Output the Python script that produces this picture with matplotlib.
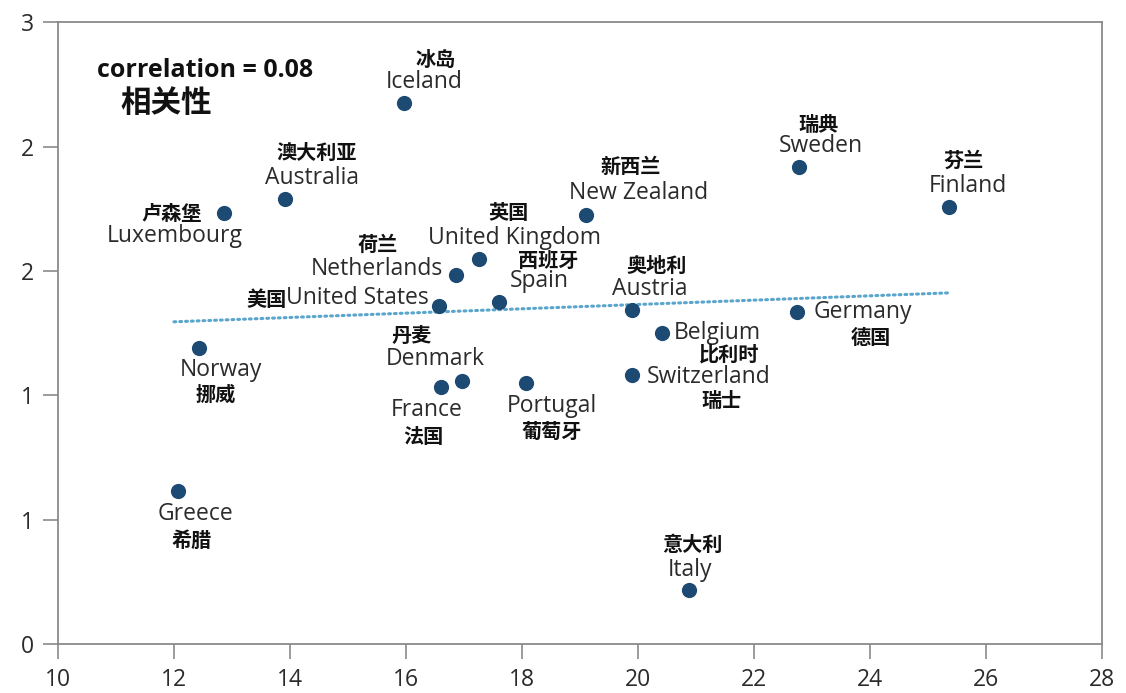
import matplotlib
matplotlib.use("Agg")
import matplotlib.pyplot as plt
from matplotlib.ticker import FormatStrFormatter

# data
countries_en = ["Iceland", "Australia", "Luxembourg", "Sweden", "Finland",
                "New Zealand", "United Kingdom", "Netherlands", "United States",
                "Spain", "Austria", "Belgium", "Germany", "Switzerland",
                "Norway", "Denmark", "France", "Portugal", "Greece", "Italy"]
countries_cn = ["冰岛", "澳大利亚", "卢森堡", "瑞典", "芬兰",
                "新西兰", "英国", "荷兰", "美国",
                "西班牙", "奥地利", "比利时", "德国", "瑞士",
                "挪威", "丹麦", "法国", "葡萄牙", "希腊", "意大利"]
x_vals = [15.97, 13.91, 12.86, 22.77, 25.37,
          19.10, 17.26, 16.87, 16.57,
          17.61, 19.90, 20.41, 22.75, 19.90,
          12.44, 16.97, 16.61, 18.07, 12.07, 20.88]
y_vals = [2.61, 2.15, 2.08, 2.30, 2.11,
          2.07, 1.86, 1.78, 1.63,
          1.65, 1.61, 1.50, 1.60, 1.30,
          1.43, 1.27, 1.24, 1.26, 0.74, 0.26]
trend_x = [12.0, 25.4]
trend_y = [1.555, 1.695]
x_ticks = [10, 12, 14, 16, 18, 20, 22, 24, 26, 28]
y_ticks = [0, 0.6, 1.2, 1.8, 2.4, 3.0]
corr_text = "correlation = 0.08"
corr_cn = "相关性"

# label layout: (dx, dy, ha) in pixels for english, then chinese
label_pos = {
    "Iceland": ((20, 21, "center"), (31, 44, "center")),
    "Australia": ((27, 21, "center"), (32, 46, "center")),
    "Luxembourg": ((-49, -23, "center"), (-22, 0, "right")),
    "Sweden": ((22, 21, "center"), (20, 43, "center")),
    "Finland": ((19, 21, "center"), (14, 47, "center")),
    "New Zealand": ((53, 22, "center"), (45, 49, "center")),
    "United Kingdom": ((36, 21, "center"), (30, 46, "center")),
    "Netherlands": ((-13, 6, "right"), (-79, 31, "center")),
    "United States": ((-10, 8, "right"), None),
    "Spain": ((40, 21, "center"), (49, 42, "center")),
    "Austria": ((18, 21, "center"), (25, 45, "center")),
    "Belgium": ((12, 0, "left"), (67, -21, "center")),
    "Germany": ((16, 0, "left"), (73, -25, "center")),
    "Switzerland": ((15, -2, "left"), (89, -26, "center")),
    "Norway": ((21, -22, "center"), (16, -47, "center")),
    "Denmark": ((-27, 22, "center"), (-51, 45, "center")),
    "France": ((-15, -23, "center"), (-18, -49, "center")),
    "Portugal": ((26, -23, "center"), (26, -49, "center")),
    "Greece": ((17, -23, "center"), (14, -50, "center")),
    "Italy": ((1, 20, "center"), (3, 46, "center")),
}

EN_FONT = ["Open Sans", "DejaVu Sans"]
CN_FONT = ["Noto Sans CJK SC", "DejaVu Sans"]
DOT = "#1d4a73"
TEXT = "#2b2b2b"
GRID = "#8a8a8a"

fig = plt.figure(figsize=(11.26, 6.93), dpi=100)
ax = fig.add_axes([0.0515, 0.0707, 0.927, 0.897])

ax.plot(trend_x, trend_y, color="#5aa5cc", lw=2.2, linestyle=(0, (0.6, 1.3)),
        dash_capstyle="round", zorder=1)
ax.scatter(x_vals, y_vals, s=120, color=DOT, zorder=3, linewidths=0)

for en, cn, x, y in zip(countries_en, countries_cn, x_vals, y_vals):
    en_pos, cn_pos = label_pos[en]
    t = ax.annotate(en, (x, y), xytext=en_pos[:2], textcoords="offset pixels",
                    ha=en_pos[2], va="center", fontsize=16.5, color=TEXT,
                    family=EN_FONT, zorder=4)
    if cn_pos is None:
        # chinese name sits directly left of the english one
        ax.annotate(cn, xy=(0, 0.45), xycoords=t, ha="right", va="center",
                    fontsize=14.5, fontweight="bold", color="#111111",
                    family=CN_FONT)
    else:
        ax.annotate(cn, (x, y), xytext=cn_pos[:2], textcoords="offset pixels",
                    ha=cn_pos[2], va="center", fontsize=14.5, fontweight="bold",
                    color="#111111", family=CN_FONT, zorder=4)

ax.text(10.67, 2.77, corr_text, fontsize=18, fontweight="bold", color="#111111",
        family=EN_FONT, va="center", ha="left")
ax.text(11.08, 2.61, corr_cn, fontsize=22, fontweight="bold", color="#111111",
        family=CN_FONT, va="center", ha="left")

ax.set_xlim(10, 28)
ax.set_ylim(0, 3)
ax.set_xticks(x_ticks)
ax.set_yticks(y_ticks)
ax.yaxis.set_major_formatter(FormatStrFormatter("%.0f"))

for s in ax.spines.values():
    s.set_color(GRID)
    s.set_linewidth(1.3)
ax.tick_params(axis="both", direction="out", length=11, width=1.2, color=GRID,
               labelsize=16.5, labelcolor=TEXT, pad=6)
for lab in ax.get_xticklabels() + ax.get_yticklabels():
    lab.set_family(EN_FONT)

fig.savefig("out.png", dpi=100, facecolor="white")
